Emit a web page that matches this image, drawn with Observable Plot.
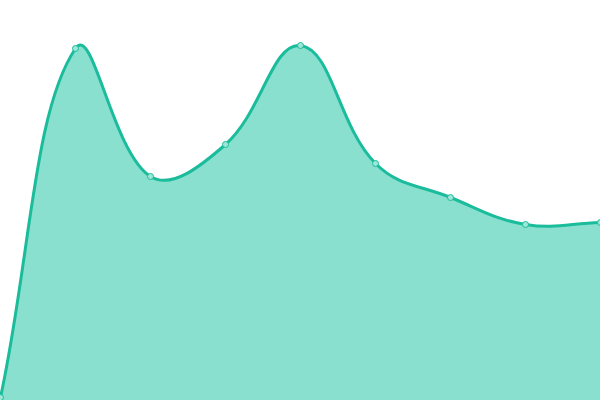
<!DOCTYPE html>
<html>
<head>
<meta charset="utf-8">
<script src="https://cdn.jsdelivr.net/npm/d3@7"></script>
<script src="https://cdn.jsdelivr.net/npm/@observablehq/plot@0.6"></script>
<style>
  html, body { margin: 0; padding: 0; background: #fff; }
  svg { display: block; }
</style>
</head>
<body>
<div id="chart"></div>
<script>
const categories = [0, 1, 2, 3, 4, 5, 6, 7, 8];
const values = [3, 352, 224, 256, 355, 237, 203, 176, 178];

const data = categories.map((c, i) => ({ x: c, y: values[i] }));

// Distance-weighted spline (tension 0.4), as a d3 curve factory
function splineCurve(tension) {
  function Curve(context) { this._context = context; }
  Curve.prototype = {
    areaStart() { this._line = 0; },
    areaEnd() { this._line = NaN; },
    lineStart() { this._pts = []; },
    point(x, y) { this._pts.push([+x, +y]); },
    lineEnd() {
      const p = this._pts, n = p.length, ctx = this._context;
      if (n) {
        if (this._line) ctx.lineTo(p[0][0], p[0][1]); else ctx.moveTo(p[0][0], p[0][1]);
        const cps = p.map((cur, i) => {
          const prev = p[Math.max(i - 1, 0)], next = p[Math.min(i + 1, n - 1)];
          const d01 = Math.hypot(cur[0] - prev[0], cur[1] - prev[1]);
          const d12 = Math.hypot(next[0] - cur[0], next[1] - cur[1]);
          let s01 = d01 / (d01 + d12), s12 = d12 / (d01 + d12);
          if (isNaN(s01)) s01 = 0;
          if (isNaN(s12)) s12 = 0;
          const fa = tension * s01, fb = tension * s12;
          return {
            prev: [cur[0] - fa * (next[0] - prev[0]), cur[1] - fa * (next[1] - prev[1])],
            next: [cur[0] + fb * (next[0] - prev[0]), cur[1] + fb * (next[1] - prev[1])]
          };
        });
        for (let i = 1; i < n; i++) {
          ctx.bezierCurveTo(cps[i - 1].next[0], cps[i - 1].next[1], cps[i].prev[0], cps[i].prev[1], p[i][0], p[i][1]);
        }
      }
      if (this._line || (this._line !== 0 && n === 1)) ctx.closePath();
      this._line = 1 - this._line;
    }
  };
  return (context) => new Curve(context);
}
const curve = splineCurve(0.4);

const chart = Plot.plot({
  width: 600,
  height: 400,
  margin: 0,
  x: { domain: [0, 8], axis: null },
  y: { domain: [0, 400], axis: null },
  marks: [
    Plot.areaY(data, { x: "x", y: "y", curve, fill: "#89e0cf" }),
    Plot.lineY(data, { x: "x", y: "y", curve, stroke: "#1abc9c", strokeWidth: 3 }),
    Plot.dot(data, { x: "x", y: "y", r: 3, fill: "#9ee6d8", stroke: "#1abc9c", strokeWidth: 1 })
  ]
});
document.getElementById("chart").appendChild(chart);
</script>
</body>
</html>
